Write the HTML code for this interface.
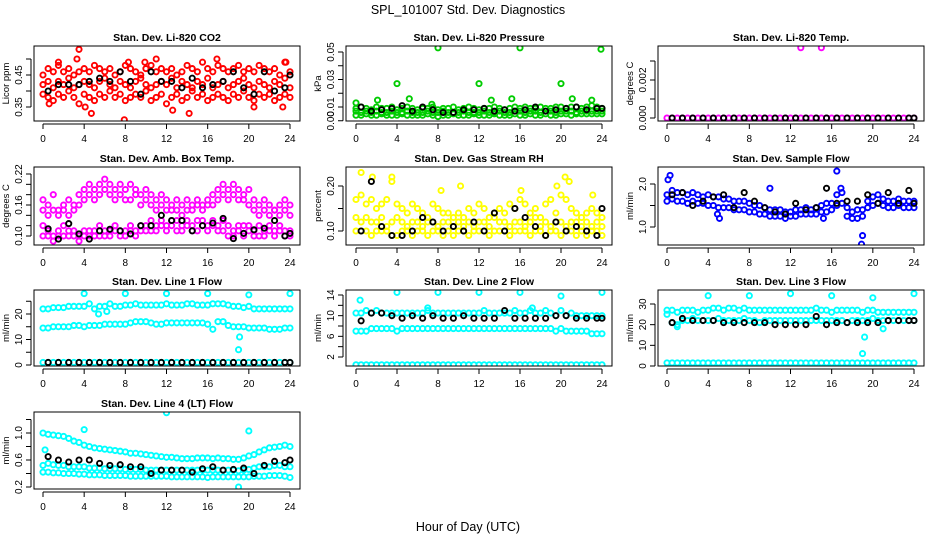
<!DOCTYPE html>
<html><head><meta charset="utf-8">
<style>
html,body{margin:0;padding:0;background:#fff;}
svg{display:block;font-family:"Liberation Sans",sans-serif;}
</style></head>
<body>
<svg id="chart" width="936" height="540" viewBox="0 0 936 540" xmlns="http://www.w3.org/2000/svg">
<rect width="936" height="540" fill="#fff"/>
<text x="468" y="14" text-anchor="middle" font-size="12.5">SPL_101007  Std. Dev. Diagnostics</text>
<text x="468" y="531" text-anchor="middle" font-size="12.5">Hour of Day (UTC)</text>
</svg>
<script>
const hours = [0,0.5,1,1.5,2,2.5,3,3.5,4,4.5,5,5.5,6,6.5,7,7.5,8,8.5,9,9.5,10,10.5,11,11.5,12,12.5,13,13.5,14,14.5,15,15.5,16,16.5,17,17.5,18,18.5,19,19.5,20,20.5,21,21.5,22,22.5,23,23.5,24];
const blackHours = [0.5,1.5,2.5,3.5,4.5,5.5,6.5,7.5,8.5,9.5,10.5,11.5,12.5,13.5,14.5,15.5,16.5,17.5,18.5,19.5,20.5,21.5,22.5,23.5,24];
const xTicks = [0,4,8,12,16,20,24];

// Panel 1: CO2
const co2Hi = [0.45,0.47,0.46,0.48,0.46,0.47,0.45,0.46,0.47,0.46,0.48,0.47,0.46,0.47,0.45,0.46,0.48,0.47,0.46,0.45,0.47,0.48,0.46,0.47,0.46,0.47,0.45,0.46,0.48,0.47,0.46,0.49,0.47,0.46,0.48,0.47,0.46,0.47,0.48,0.46,0.47,0.46,0.48,0.47,0.46,0.47,0.45,0.49,0.46];
const co2Mid = [0.42,0.43,0.41,0.43,0.42,0.44,0.41,0.42,0.43,0.42,0.41,0.43,0.44,0.42,0.41,0.43,0.42,0.41,0.43,0.44,0.42,0.41,0.42,0.43,0.42,0.44,0.41,0.43,0.42,0.41,0.43,0.42,0.44,0.41,0.42,0.43,0.41,0.42,0.43,0.44,0.42,0.41,0.43,0.42,0.41,0.43,0.42,0.44,0.41];
const co2Lo = [0.39,0.38,0.37,0.39,0.38,0.40,0.38,0.36,0.39,0.38,0.37,0.39,0.38,0.40,0.38,0.39,0.37,0.38,0.39,0.38,0.40,0.37,0.38,0.39,0.36,0.38,0.39,0.37,0.38,0.40,0.38,0.39,0.37,0.38,0.39,0.38,0.37,0.39,0.38,0.40,0.38,0.37,0.39,0.38,0.39,0.37,0.38,0.39,0.38];
const co2OutH = [3.5,7.9,4.7,12.6,14.2,1.5,8.3,11,16.9,23.6,3.3,20.5,0.6,23.3,4.1,9.9];
const co2OutV = [0.53,0.31,0.33,0.34,0.33,0.49,0.49,0.50,0.50,0.49,0.50,0.35,0.36,0.35,0.35,0.49];
const co2Black = [0.40,0.42,0.42,0.42,0.43,0.44,0.43,0.46,0.43,0.39,0.46,0.43,0.43,0.41,0.44,0.41,0.42,0.43,0.46,0.41,0.39,0.46,0.40,0.41,0.45];

// Panel 2: Pressure
const presHi = [0.009,0.010,0.009,0.008,0.010,0.009,0.009,0.010,0.008,0.009,0.010,0.009,0.008,0.009,0.009,0.010,0.008,0.009,0.009,0.010,0.008,0.009,0.010,0.009,0.008,0.009,0.009,0.010,0.009,0.008,0.009,0.010,0.009,0.010,0.009,0.009,0.010,0.009,0.009,0.010,0.010,0.009,0.010,0.010,0.009,0.010,0.011,0.010,0.009];
const presMid = [0.007,0.006,0.007,0.006,0.007,0.006,0.006,0.007,0.006,0.006,0.007,0.006,0.006,0.006,0.007,0.006,0.006,0.007,0.006,0.006,0.006,0.007,0.006,0.006,0.006,0.007,0.006,0.006,0.007,0.006,0.006,0.007,0.007,0.006,0.007,0.007,0.006,0.007,0.007,0.006,0.007,0.007,0.007,0.006,0.007,0.007,0.007,0.007,0.007];
const presLo = [0.004,0.004,0.005,0.004,0.004,0.005,0.004,0.004,0.004,0.005,0.004,0.004,0.004,0.004,0.005,0.004,0.003,0.004,0.004,0.005,0.004,0.004,0.004,0.005,0.004,0.004,0.004,0.005,0.004,0.004,0.004,0.005,0.004,0.004,0.005,0.004,0.004,0.005,0.004,0.004,0.005,0.005,0.004,0.005,0.005,0.005,0.005,0.005,0.005];
const presOutH = [8,16,23.9,4,12,20,5.2,2.1,13.2,15.2,21.1,23,0,7.4];
const presOutV = [0.053,0.053,0.052,0.027,0.027,0.027,0.016,0.015,0.015,0.016,0.016,0.015,0.013,0.012];
const presBlack = [0.010,0.007,0.008,0.009,0.011,0.007,0.010,0.008,0.006,0.006,0.008,0.008,0.009,0.007,0.008,0.007,0.008,0.010,0.007,0.008,0.009,0.010,0.008,0.009,0.009];

// Panel 3: Li-820 Temp
const tempVals = [0,0,0,0,0,0,0,0,0,0,0,0,0,0,0,0,0,0,0,0,0,0,0,0,0,0,0,0,0,0,0,0,0,0,0,0,0,0,0,0,0,0,0,0,0,0,0,0,0];
const tempOutH = [13,15];
const tempOutV = [0.0037,0.0037];
const tempBlack = [0,0,0,0,0,0,0,0,0,0,0,0,0,0,0,0,0,0,0,0,0,0,0,0,0];

// Panel 4: Amb box temp
const ambHi = [0.17,0.16,0.18,0.15,0.16,0.17,0.16,0.18,0.19,0.20,0.19,0.20,0.21,0.20,0.19,0.20,0.19,0.20,0.19,0.18,0.19,0.18,0.17,0.18,0.17,0.16,0.17,0.16,0.17,0.16,0.17,0.16,0.17,0.18,0.19,0.20,0.19,0.20,0.19,0.18,0.19,0.17,0.16,0.17,0.16,0.15,0.16,0.17,0.16];
const ambMid = [0.15,0.14,0.15,0.14,0.15,0.14,0.15,0.16,0.17,0.18,0.17,0.18,0.19,0.18,0.17,0.18,0.17,0.17,0.18,0.16,0.17,0.16,0.15,0.16,0.15,0.15,0.15,0.14,0.15,0.15,0.16,0.15,0.16,0.16,0.17,0.18,0.17,0.18,0.17,0.17,0.16,0.15,0.14,0.15,0.14,0.15,0.14,0.15,0.14];
const ambLo = [0.10,0.11,0.10,0.11,0.10,0.11,0.10,0.10,0.11,0.10,0.11,0.10,0.11,0.11,0.12,0.11,0.11,0.12,0.11,0.12,0.12,0.11,0.12,0.12,0.12,0.12,0.13,0.12,0.12,0.12,0.13,0.12,0.12,0.12,0.12,0.11,0.12,0.11,0.11,0.12,0.11,0.11,0.12,0.11,0.12,0.11,0.11,0.10,0.10];
const ambLo2 = [0.12,0.10,0.09,0.10,0.12,0.10,0.11,0.09,0.10,0.11,0.10,0.12,0.10,0.10,0.11,0.10,0.10,0.11,0.10,0.11,0.11,0.13,0.11,0.13,0.11,0.13,0.11,0.11,0.13,0.11,0.11,0.13,0.11,0.13,0.11,0.13,0.10,0.10,0.12,0.10,0.12,0.10,0.10,0.10,0.11,0.10,0.12,0.11,0.11];
const ambBlack = [0.114,0.094,0.124,0.104,0.094,0.11,0.113,0.11,0.104,0.12,0.12,0.14,0.13,0.13,0.11,0.12,0.125,0.134,0.095,0.105,0.112,0.115,0.13,0.10,0.105];

// Panel 5: Gas stream RH
const rhHi = [0.17,0.18,0.16,0.17,0.15,0.16,0.17,0.22,0.16,0.15,0.14,0.16,0.15,0.14,0.13,0.16,0.15,0.14,0.14,0.13,0.14,0.13,0.15,0.14,0.16,0.15,0.13,0.14,0.15,0.14,0.16,0.15,0.17,0.16,0.14,0.15,0.13,0.16,0.17,0.14,0.18,0.17,0.15,0.14,0.13,0.14,0.15,0.14,0.13];
const rhMid = [0.13,0.12,0.13,0.12,0.12,0.13,0.11,0.12,0.13,0.12,0.11,0.12,0.12,0.11,0.12,0.12,0.11,0.12,0.12,0.11,0.12,0.11,0.12,0.11,0.12,0.12,0.11,0.13,0.12,0.12,0.11,0.12,0.12,0.11,0.12,0.13,0.11,0.12,0.11,0.12,0.12,0.11,0.12,0.12,0.11,0.12,0.11,0.12,0.11];
const rhLo = [0.10,0.10,0.10,0.09,0.10,0.10,0.10,0.09,0.09,0.10,0.10,0.09,0.10,0.10,0.09,0.10,0.10,0.09,0.10,0.09,0.10,0.10,0.09,0.10,0.10,0.10,0.09,0.10,0.10,0.10,0.09,0.10,0.10,0.10,0.09,0.10,0.10,0.09,0.10,0.10,0.09,0.10,0.10,0.09,0.10,0.09,0.10,0.10,0.09];
const rhOutH = [0.5,1.6,3.5,10.2,16.1,19.6,20.4,20.8,23.1,8.3];
const rhOutV = [0.23,0.22,0.21,0.20,0.19,0.20,0.22,0.21,0.18,0.19];
const rhBlack = [0.10,0.21,0.11,0.09,0.09,0.10,0.13,0.12,0.10,0.11,0.10,0.12,0.10,0.14,0.10,0.15,0.13,0.11,0.09,0.12,0.10,0.11,0.10,0.09,0.15];

// Panel 6: Sample flow
const sfHi = [1.75,1.85,1.8,1.8,1.75,1.8,1.75,1.7,1.75,1.7,1.7,1.65,1.65,1.6,1.6,1.6,1.55,1.5,1.5,1.45,1.4,1.4,1.4,1.35,1.35,1.4,1.4,1.45,1.4,1.45,1.5,1.55,1.55,1.75,1.8,1.45,1.35,1.4,1.4,1.6,1.7,1.75,1.65,1.6,1.6,1.65,1.6,1.6,1.6];
const sfLo = [1.6,1.65,1.6,1.6,1.55,1.6,1.55,1.55,1.5,1.5,1.45,1.45,1.45,1.4,1.4,1.4,1.35,1.35,1.3,1.3,1.25,1.25,1.25,1.2,1.25,1.25,1.3,1.3,1.3,1.3,1.35,1.35,1.4,1.5,1.55,1.25,1.2,1.2,1.25,1.45,1.5,1.55,1.5,1.45,1.45,1.5,1.45,1.45,1.45];
const sfOutH = [0.1,0.3,16.5,19,18.9,5.1,15.2,10,4.9,16.9];
const sfOutV = [2.1,2.2,2.3,0.8,0.6,1.2,1.2,1.9,1.3,1.9];
const sfBlack = [1.75,1.8,1.5,1.6,1.7,1.75,1.45,1.8,1.6,1.45,1.35,1.3,1.55,1.4,1.45,1.9,1.55,1.6,1.6,1.75,1.55,1.8,1.55,1.85,1.55];

// Panel 7: Line 1 flow
const l1Hi = [22,22,22.5,22.5,22.5,23,23,23,23,24,22,23,23,24,23,23,23.5,23.5,24,23.5,23.5,23.5,23.5,23.5,24,23.5,23.5,23.5,24,24,23.5,23.5,23.5,24,24,24,23.5,23,23,22.5,23,22,22,22,22,22,22,22,22];
const l1Mid = [14.5,14.5,15,15,15,15,15.5,15.5,15,15.5,15.5,15.5,16,16,16,16,16,16.5,17,17,17,16.5,16,16,16.5,16.5,16.5,16.5,16.5,16.5,16.5,16.5,16,14,17,17,15.5,15,15,15,14.5,14.5,14.5,14.5,14,14,14,14.5,14.5];
const l1Lo = [1,1,1,1,1,1,1,1,1,1,1,1,1,1,1,1,1,1,1,1,1,1,1,1,1,1,1,1,1,1,1,1,1,1,1,1,1,1,1,1,1,1,1,1,1,1,1,1,1];
const l1OutH = [4,8,12,16,20,24,19,19.1,5.4,6.2];
const l1OutV = [28,28,28,28,27.5,28,6,11,20,21];
const l1Black = [1,1,1,1,1,1,1,1,1,1,1,1,1,1,1,1,1,1,1,1,1,1,1,1,1];

// Panel 8: Line 2 flow
const l2Hi = [10.5,10.5,11,10.5,11,10.5,10.5,10.5,10.5,10.5,10.5,10.5,10.5,10.5,11,10.5,10.5,10.5,10.5,10.5,10.5,10.5,10.5,10.5,10.5,11,10.5,10.5,10.5,10.5,10.5,11,10.5,10.5,11,10.5,10.5,11,10.5,10,11,10,10.5,10,10,10,10,10,10];
const l2Mid = [7,7,7,7.5,7.5,7.5,7.5,7.5,7,7.5,7.5,7.5,7.5,7.5,7.5,7.5,7.5,7.5,7.5,7.5,7.5,7.5,7.5,7.5,7.5,7.5,7.5,7.5,7.5,7.5,7.5,7.5,7.5,7.5,7.5,7.5,7.5,7.5,7.5,7,7.5,7,7,7,7,7,6.5,6.5,6.5];
const l2Lo = [0.5,0.5,0.5,0.5,0.5,0.5,0.5,0.5,0.5,0.5,0.5,0.5,0.5,0.5,0.5,0.5,0.5,0.5,0.5,0.5,0.5,0.5,0.5,0.5,0.5,0.5,0.5,0.5,0.5,0.5,0.5,0.5,0.5,0.5,0.5,0.5,0.5,0.5,0.5,0.5,0.5,0.5,0.5,0.5,0.5,0.5,0.5,0.5,0.5];
const l2OutH = [0.4,4,8,12,16,20,24,7,17.2];
const l2OutV = [13,14.5,14.5,14.5,14.5,13.8,14.5,11.5,11.5];
const l2Black = [9,10.5,10.5,10,9.5,10,9.5,10,9.5,9.5,10,9.5,9.5,9.5,11,9.5,9.5,9.5,9.5,10,10,9.5,9.5,9.5,9.5];

// Panel 9: Line 3 flow
const l3Hi = [27,27,26,27,27,27,26,27,27,28,28,27,28,28,27,28,27,27,27,27,27,27,27,27,27,27,27,27,27,28,27,27,26,27,27,27,27,27,26,27,27,26,26,26,26,26,26,26,26];
const l3Mid = [25,21,20,22,22,23,22,22,22,22,23,22,22,22,22,23,22,22,21,22,22,22,22,22,22,22,22,22,22,22,22,22,22,22,22,21,22,22,22,22,23,22,22,22,22,22,22,22,22];
const l3Lo = [1.5,1.5,1.5,1.5,1.5,1.5,1.5,1.5,1.5,1.5,1.5,1.5,1.5,1.5,1.5,1.5,1.5,1.5,1.5,1.5,1.5,1.5,1.5,1.5,1.5,1.5,1.5,1.5,1.5,1.5,1.5,1.5,1.5,1.5,1.5,1.5,1.5,1.5,1.5,1.5,1.5,1.5,1.5,1.5,1.5,1.5,1.5,1.5,1.5];
const l3OutH = [4,8,12,16,20,24,19,19.2,1,21];
const l3OutV = [34,34,35,34,33,35,6,14,19,18];
const l3Black = [21,23,22,22,22,21,21,21,21,21,20,20,20,20,24,20,21,21,21,21,21,22,22,22,22];

// Panel 10: Line 4 flow
const l4Hi = [1.0,0.98,0.97,0.96,0.95,0.92,0.88,0.86,0.82,0.8,0.78,0.77,0.76,0.75,0.74,0.73,0.72,0.7,0.7,0.69,0.68,0.67,0.66,0.65,0.64,0.64,0.63,0.62,0.62,0.62,0.63,0.63,0.63,0.62,0.63,0.62,0.62,0.61,0.61,0.63,0.66,0.68,0.72,0.75,0.78,0.79,0.8,0.82,0.8];
const l4Mid = [0.52,0.55,0.53,0.52,0.52,0.5,0.5,0.5,0.5,0.48,0.48,0.48,0.47,0.47,0.47,0.47,0.46,0.46,0.46,0.46,0.45,0.45,0.45,0.45,0.45,0.45,0.45,0.45,0.45,0.45,0.45,0.45,0.45,0.45,0.45,0.45,0.45,0.45,0.44,0.45,0.46,0.48,0.5,0.5,0.5,0.52,0.52,0.5,0.5];
const l4Lo = [0.42,0.42,0.41,0.41,0.4,0.4,0.4,0.39,0.39,0.38,0.38,0.38,0.37,0.37,0.37,0.37,0.37,0.36,0.36,0.36,0.36,0.36,0.36,0.36,0.36,0.35,0.35,0.35,0.35,0.35,0.35,0.35,0.34,0.35,0.35,0.35,0.35,0.35,0.35,0.35,0.35,0.36,0.36,0.36,0.37,0.37,0.37,0.36,0.34];
const l4OutH = [12,4,20,19,0.2];
const l4OutV = [1.3,1.05,1.03,0.2,0.75];
const l4Black = [0.65,0.6,0.57,0.6,0.6,0.55,0.52,0.53,0.5,0.5,0.4,0.45,0.45,0.45,0.42,0.47,0.5,0.45,0.46,0.48,0.4,0.52,0.58,0.56,0.6];

const NS = "http://www.w3.org/2000/svg";
const svg = document.getElementById('chart');
function mk(tag, attrs, parent) {
  const e = document.createElementNS(NS, tag);
  for (const k in attrs) e.setAttribute(k, attrs[k]);
  (parent || svg).appendChild(e);
  return e;
}
const cols = [{bx0:34,bx1:300,x0:43,x24:290},{bx0:346,bx1:612,x0:356,x24:602},{bx0:658,bx1:924,x0:667,x24:914}];
const rows = [{top:46,bot:121},{top:167,bot:245},{top:290,bot:366},{top:412,bot:489}];

function panel(p) {
  const c = cols[p.col], r = rows[p.row];
  const g = mk('g', {});
  
  
  const xs = h => c.x0 + (c.x24 - c.x0) * h / 24;
  const ys = v => p.py0 + (p.py1 - p.py0) * (v - p.v0) / (p.v1 - p.v0);
  const t = mk('text', {x:(c.bx0+c.bx1)/2, y:r.top-5, 'text-anchor':'middle', 'font-size':'10.5', 'font-weight':'bold'}, g);
  t.textContent = p.title;
  
  
  const xa = mk('g', {}, g);
  
  
  mk('line', {x1:xs(0), x2:xs(24), y1:r.bot+3, y2:r.bot+3, stroke:'#000', 'stroke-width':1}, xa);
  xTicks.forEach(h => {
    mk('line', {x1:xs(h), x2:xs(h), y1:r.bot+3, y2:r.bot+8, stroke:'#000', 'stroke-width':1}, xa);
    const tl = mk('text', {x:xs(h), y:r.bot+21, 'text-anchor':'middle', 'font-size':'10'}, xa);
    tl.textContent = h;
    
    
  });
  const ya = mk('g', {}, g);
  
  
  const ax = c.bx0 - 3;
  mk('line', {x1:ax, x2:ax, y1:ys(p.ticks[0]), y2:ys(p.ticks[p.ticks.length-1]), stroke:'#000', 'stroke-width':1}, ya);
  p.ticks.forEach((v, i) => {
    mk('line', {x1:ax-5, x2:ax, y1:ys(v), y2:ys(v), stroke:'#000', 'stroke-width':1}, ya);
    if (p.labels[i] !== '') {
      const tl = mk('text', {x:0, y:0, 'text-anchor':'middle', 'font-size':'10', transform:`translate(${ax-9},${ys(v)}) rotate(-90)`}, ya);
      tl.textContent = p.labels[i];
      
      
    }
  });
  const yt = mk('text', {x:0, y:0, 'text-anchor':'middle', 'font-size':'9.5', transform:`translate(${c.bx0-25},${(r.top+r.bot)/2}) rotate(-90)`}, g);
  yt.textContent = p.ylab;
  
  
  const cid = 'clip' + p.col + p.row;
  const cp = mk('clipPath', {id:cid}, g);
  mk('rect', {x:c.bx0, y:r.top, width:c.bx1-c.bx0, height:r.bot-r.top}, cp);
  const pg = mk('g', {'clip-path':`url(#${cid})`, fill:'none', 'stroke-width':1.9}, g);
  p.series.forEach(s => {
    const sg = mk('g', {stroke:s.color}, pg);
    
    
    s.vals.forEach((v, i) => {
      const pt = mk('circle', {cx:xs(s.hrs[i]), cy:ys(v), r:2.6}, sg);
      
      
    });
  });
  const box = mk('rect', {x:c.bx0, y:r.top, width:c.bx1-c.bx0, height:r.bot-r.top, fill:'none', stroke:'#000', 'stroke-width':1}, g);
  
  
}

function S(name, color, hrs, vals) { return {name, color, hrs, vals}; }

panel({name:'panel-co2', col:0, row:0, title:'Stan. Dev. Li-820 CO2', ylab:'Licor ppm', v0:0.35, v1:0.45, py0:107, py1:75,
  ticks:[0.35,0.40,0.45,0.50], labels:['0.35','','0.45',''],
  series:[S('co2-series','#ff0000',hours,co2Hi),S('co2-series','#ff0000',hours,co2Mid),S('co2-series','#ff0000',hours,co2Lo),S('co2-outliers','#ff0000',co2OutH,co2OutV),S('co2-black-series','#000',blackHours,co2Black)]});
panel({name:'panel-pressure', col:1, row:0, title:'Stan. Dev. Li-820 Pressure', ylab:'kPa', v0:0.01, v1:0.05, py0:107, py1:52,
  ticks:[0.00,0.01,0.02,0.03,0.04,0.05], labels:['0.00','0.01','','0.03','','0.05'],
  series:[S('pressure-series','#00cc00',hours,presHi),S('pressure-series','#00cc00',hours,presMid),S('pressure-series','#00cc00',hours,presLo),S('pressure-outliers','#00cc00',presOutH,presOutV),S('pressure-black-series','#000',blackHours,presBlack)]});
panel({name:'panel-temp', col:2, row:0, title:'Stan. Dev. Li-820 Temp.', ylab:'degrees C', v0:0, v1:0.002, py0:118, py1:80,
  ticks:[0,0.001,0.002,0.003], labels:['0.000','','0.002',''],
  series:[S('temp-series','#ff00ff',hours,tempVals),S('temp-outliers','#ff00ff',tempOutH,tempOutV),S('temp-black-series','#000',blackHours,tempBlack)]});
panel({name:'panel-ambbox', col:0, row:1, title:'Stan. Dev. Amb. Box Temp.', ylab:'degrees C', v0:0.10, v1:0.22, py0:236, py1:174,
  ticks:[0.10,0.12,0.14,0.16,0.18,0.20,0.22], labels:['0.10','','','0.16','','','0.22'],
  series:[S('ambbox-series','#ff00ff',hours,ambHi),S('ambbox-series','#ff00ff',hours,ambMid),S('ambbox-series','#ff00ff',hours,ambLo),S('ambbox-series','#ff00ff',hours,ambLo2),S('ambbox-black-series','#000',blackHours,ambBlack)]});
panel({name:'panel-rh', col:1, row:1, title:'Stan. Dev. Gas Stream RH', ylab:'percent', v0:0.10, v1:0.20, py0:231, py1:186,
  ticks:[0.10,0.15,0.20], labels:['0.10','','0.20'],
  series:[S('rh-series','#ffff00',hours,rhHi),S('rh-series','#ffff00',hours,rhMid),S('rh-series','#ffff00',hours,rhLo),S('rh-outliers','#ffff00',rhOutH,rhOutV),S('rh-black-series','#000',blackHours,rhBlack)]});
panel({name:'panel-sampleflow', col:2, row:1, title:'Stan. Dev. Sample Flow', ylab:'ml/min', v0:1.0, v1:2.0, py0:227, py1:184,
  ticks:[1.0,1.5,2.0], labels:['1.0','','2.0'],
  series:[S('sampleflow-series','#0000ff',hours,sfHi),S('sampleflow-series','#0000ff',hours,sfLo),S('sampleflow-outliers','#0000ff',sfOutH,sfOutV),S('sampleflow-black-series','#000',blackHours,sfBlack)]});
panel({name:'panel-line1', col:0, row:2, title:'Stan. Dev. Line 1 Flow', ylab:'ml/min', v0:0, v1:20, py0:365, py1:314,
  ticks:[0,5,10,15,20,25], labels:['0','','10','','20',''],
  series:[S('line1-series','#00ffff',hours,l1Hi),S('line1-series','#00ffff',hours,l1Mid),S('line1-series','#00ffff',hours,l1Lo),S('line1-outliers','#00ffff',l1OutH,l1OutV),S('line1-black-series','#000',blackHours,l1Black)]});
panel({name:'panel-line2', col:1, row:2, title:'Stan. Dev. Line 2 Flow', ylab:'ml/min', v0:2, v1:14, py0:357, py1:295,
  ticks:[2,4,6,8,10,12,14], labels:['2','','6','','10','','14'],
  series:[S('line2-series','#00ffff',hours,l2Hi),S('line2-series','#00ffff',hours,l2Mid),S('line2-series','#00ffff',hours,l2Lo),S('line2-outliers','#00ffff',l2OutH,l2OutV),S('line2-black-series','#000',blackHours,l2Black)]});
panel({name:'panel-line3', col:2, row:2, title:'Stan. Dev. Line 3 Flow', ylab:'ml/min', v0:0, v1:30, py0:366, py1:304,
  ticks:[0,10,20,30], labels:['0','10','20','30'],
  series:[S('line3-series','#00ffff',hours,l3Hi),S('line3-series','#00ffff',hours,l3Mid),S('line3-series','#00ffff',hours,l3Lo),S('line3-outliers','#00ffff',l3OutH,l3OutV),S('line3-black-series','#000',blackHours,l3Black)]});
panel({name:'panel-line4', col:0, row:3, title:'Stan. Dev. Line 4 (LT) Flow', ylab:'ml/min', v0:0.2, v1:1.0, py0:487, py1:433,
  ticks:[0.2,0.4,0.6,0.8,1.0,1.2], labels:['0.2','','0.6','','1.0',''],
  series:[S('line4-series','#00ffff',hours,l4Hi),S('line4-series','#00ffff',hours,l4Mid),S('line4-series','#00ffff',hours,l4Lo),S('line4-outliers','#00ffff',l4OutH,l4OutV),S('line4-black-series','#000',blackHours,l4Black)]});
</script>
</body></html>
